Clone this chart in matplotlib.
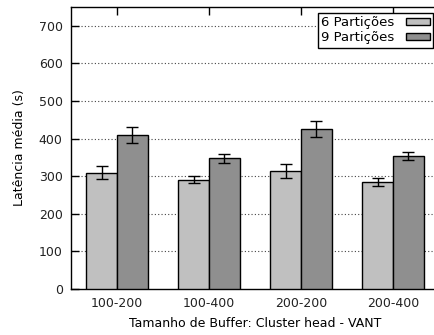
import numpy as np
import matplotlib.pyplot as plt

grupos = ["100-200", "100-400", "200-200", "200-400"]
series = ["6 Partições", "9 Partições"]
lat6 = [309, 291, 313, 284]
lat9 = [410, 348, 426, 353]
err6 = [17, 10, 19, 11]
err9 = [22, 12, 22, 11]
cores = ["#c0c0c0", "#8f8f8f"]

plt.rcParams["font.family"] = "DejaVu Sans"
plt.rcParams["font.size"] = 9

fig = plt.figure(figsize=(4.35, 3.35), dpi=100)
ax = fig.add_axes([71 / 435, 46 / 335, 368 / 435, 282 / 335])

x = np.arange(len(grupos))
w = 1 / 3
for i, (vals, errs) in enumerate([(lat6, err6), (lat9, err9)]):
    ax.bar(x + (i - 0.5) * w, vals, w, yerr=errs, color=cores[i],
           edgecolor="black", linewidth=1.0, label=series[i],
           error_kw=dict(ecolor="black", elinewidth=1.0, capsize=4, capthick=1.0),
           zorder=3)

ax.set_xlim(-0.5, 3.5)
ax.set_ylim(0, 750)
ax.set_yticks(range(0, 701, 100))
ax.set_xticks(x)
ax.set_xticklabels(grupos)
for yy in range(100, 701, 100):
    ax.axhline(yy, color="#444444", linestyle=(0, (1, 2)), linewidth=0.8, zorder=1)

ax.tick_params(axis="both", direction="in", length=6, width=1, top=True, right=False,
               pad=6, colors="black", labelcolor="#222222")
for s in ax.spines.values():
    s.set_linewidth(1.0)

ax.set_ylabel("Latência média (s)", labelpad=9)
ax.set_xlabel("Tamanho de Buffer: Cluster head - VANT", labelpad=5)

leg = ax.legend(loc="upper right", bbox_to_anchor=(433 / 435, 1 - 13 / 335),
                bbox_transform=fig.transFigure, markerfirst=False, fancybox=False,
                framealpha=1, edgecolor="black", handlelength=1.8, handleheight=0.5,
                borderpad=0.25, labelspacing=0.15, handletextpad=0.9, borderaxespad=0,
                fontsize=9.5)
leg.get_frame().set_linewidth(1.0)

fig.savefig("out.png", dpi=100)
